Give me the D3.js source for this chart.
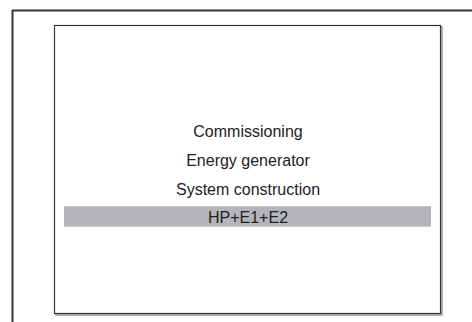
<!DOCTYPE html>
<html><head><meta charset="utf-8">
<script src="https://cdn.jsdelivr.net/npm/d3@7"></script>
<style>html,body{margin:0;padding:0;background:#fff;}svg{display:block;}</style>
</head><body>
<script>
const categories = ["Commissioning", "Energy generator", "System construction", "HP+E1+E2"];
const highlighted = [0, 0, 0, 1];

const W = 472, H = 322;
const svg = d3.select("body").append("svg").attr("width", W).attr("height", H);

// outer frame (top + left visible)
svg.append("line").attr("x1", 12).attr("x2", W).attr("y1", 10.5).attr("y2", 10.5)
  .attr("stroke", "#333").attr("stroke-width", 2);
svg.append("line").attr("x1", 12.5).attr("x2", 12.5).attr("y1", 10).attr("y2", H)
  .attr("stroke", "#333").attr("stroke-width", 2);

// inner box with shadow
const box = {x: 54.5, y: 25.5, w: 386, h: 288};
svg.append("rect").attr("x", box.x + 1.5).attr("y", box.y + 1.5).attr("width", box.w).attr("height", box.h)
  .attr("fill", "none").attr("stroke", "#999").attr("stroke-width", 1.5);
svg.append("rect").attr("x", box.x).attr("y", box.y).attr("width", box.w).attr("height", box.h)
  .attr("fill", "#fff").attr("stroke", "#333").attr("stroke-width", 1.2);

const y = d3.scalePoint().domain(categories).range([131, 217.7]);
const x = d3.scaleLinear().domain([0, 1]).range([64, 431]);

const rows = svg.selectAll("g.row").data(categories).join("g").attr("class", "row");
rows.filter((d, i) => highlighted[i]).append("rect")
  .attr("x", x(0)).attr("width", x(1) - x(0))
  .attr("y", d => y(d) - 11.5).attr("height", 20.5)
  .attr("fill", "#b4b5b9");
rows.append("text")
  .attr("x", (x(0) + x(1)) / 2 + 0.5)
  .attr("y", d => y(d))
  .attr("dy", "0.36em")
  .attr("text-anchor", "middle")
  .attr("font-family", "'Liberation Sans', Arial, sans-serif")
  .attr("font-size", 16)
  .attr("fill", "#222")
  .text(d => d);
</script>
</body></html>
